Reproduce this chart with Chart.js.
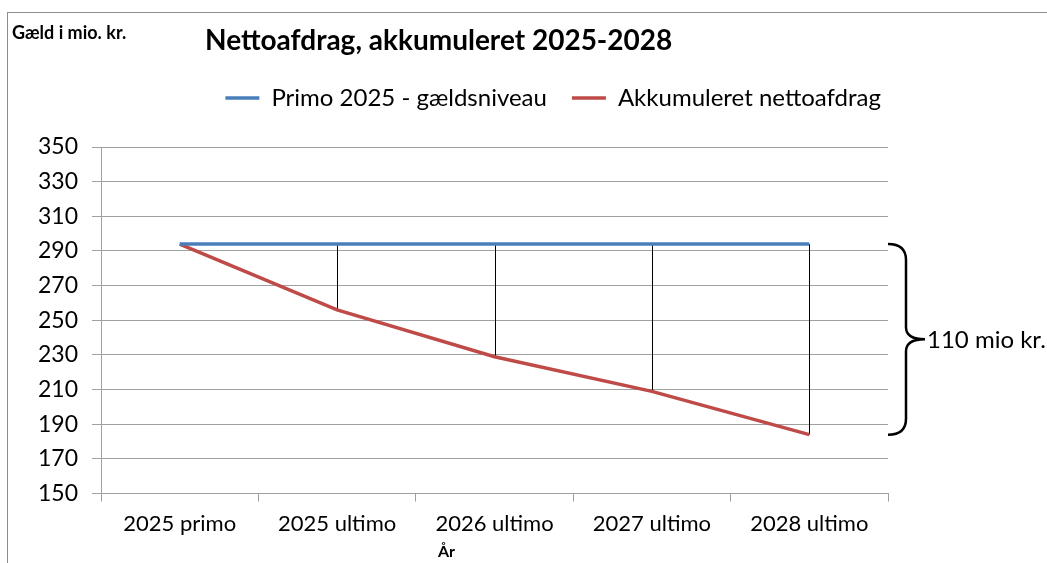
<!DOCTYPE html>
<html>
<head>
<meta charset="utf-8">
<title>Nettoafdrag, akkumuleret 2025-2028</title>
<script src="https://cdn.jsdelivr.net/npm/chart.js@4.4.1/dist/chart.umd.min.js"></script>
<style>
  html, body { margin: 0; padding: 0; background: #fff; }
  #wrap { position: relative; width: 1047px; height: 563px; overflow: hidden; font-family: Lato, sans-serif; }
  #frame { position: absolute; left: 7px; top: 12px; width: 1100px; height: 600px;
           border-top: 1px solid #8c8c8c; border-left: 1px solid #8c8c8c; }
  canvas { position: absolute; left: 0; top: 0; }
  .lbl { position: absolute; white-space: nowrap; color: #000; }
  #title { left: 205px; top: 25px; font-size: 28px; line-height: 28px; font-weight: bold; }
  #ylabel { left: 12px; top: 23px; font-size: 18px; line-height: 18px; font-weight: bold; }
  #xlabel { left: 438px; top: 543px; font-size: 16px; line-height: 16px; font-weight: bold; }
</style>
</head>
<body>
<div id="wrap">
  <div id="frame"></div>
  <canvas id="line-chart" width="1047" height="563"></canvas>
  <div class="lbl" id="title">Nettoafdrag, akkumuleret 2025-2028</div>
  <div class="lbl" id="ylabel">Gæld i mio. kr.</div>
  <div class="lbl" id="xlabel">År</div>
</div>
<script>
// data
var categories = ['2025 primo', '2025 ultimo', '2026 ultimo', '2027 ultimo', '2028 ultimo'];
var primoLevel = [294, 294, 294, 294, 294];
var accumulated = [294, 256, 229, 209, 184];
var yMin = 150;
var yMax = 350;
var yStep = 20;

Chart.defaults.font.family = 'Lato, sans-serif';
Chart.defaults.color = '#000';

// extra room under the legend, and push the legend a bit to the right
var legendTweak = {
    id: 'legendTweak',
    beforeInit: function (chart) {
        var fit = chart.legend.fit;
        chart.legend.fit = function () {
            fit.bind(chart.legend)();
            this.height += 27;
        };
    },
    afterLayout: function (chart) {
        chart.legend.left += 18;
        chart.legend.right += 18;
    }
};

// thin black lines from the primo level down to each year's value
var dropLines = {
    id: 'dropLines',
    beforeDatasetsDraw: function (chart) {
        var ctx = chart.ctx;
        var xs = chart.scales.x, ys = chart.scales.y;
        ctx.save();
        ctx.strokeStyle = '#000';
        ctx.lineWidth = 1;
        for (var i = 1; i < categories.length; i++) {
            var x = Math.round(xs.getPixelForValue(i)) + 0.5;
            ctx.beginPath();
            ctx.moveTo(x, ys.getPixelForValue(primoLevel[i]));
            ctx.lineTo(x, ys.getPixelForValue(accumulated[i]));
            ctx.stroke();
        }
        ctx.restore();
    }
};

// curly brace with the total
var brace = {
    id: 'brace',
    afterDraw: function (chart) {
        var ctx = chart.ctx;
        var ys = chart.scales.y;
        var last = categories.length - 1;
        var top = ys.getPixelForValue(primoLevel[last]);
        var bot = ys.getPixelForValue(accumulated[last]);
        var mid = (top + bot) / 2;
        var x0 = chart.chartArea.right;
        var xv = x0 + 18, xt = x0 + 37;
        ctx.save();
        ctx.strokeStyle = '#000';
        ctx.lineWidth = 2.5;
        ctx.beginPath();
        ctx.moveTo(x0, top);
        ctx.quadraticCurveTo(xv, top, xv, top + 16);
        ctx.lineTo(xv, mid - 12);
        ctx.quadraticCurveTo(xv, mid, xt, mid);
        ctx.quadraticCurveTo(xv, mid, xv, mid + 12);
        ctx.lineTo(xv, bot - 16);
        ctx.quadraticCurveTo(xv, bot, x0, bot);
        ctx.stroke();
        ctx.fillStyle = '#000';
        ctx.font = '24px Lato, sans-serif';
        ctx.textBaseline = 'middle';
        ctx.fillText((primoLevel[last] - accumulated[last]) + ' mio kr.', xt + 2, mid + 1);
        ctx.restore();
    }
};

new Chart(document.getElementById('line-chart'), {
    type: 'line',
    data: {
        labels: categories,
        datasets: [
            {
                label: 'Primo 2025 - gældsniveau',
                data: primoLevel,
                borderColor: '#4a7ebb',
                backgroundColor: '#4a7ebb',
                borderWidth: 3.5,
                pointRadius: 0,
                tension: 0
            },
            {
                label: 'Akkumuleret nettoafdrag',
                data: accumulated,
                borderColor: '#be4b48',
                backgroundColor: '#be4b48',
                borderWidth: 3.5,
                pointRadius: 0,
                tension: 0
            }
        ]
    },
    options: {
        responsive: false,
        animation: false,
        layout: { padding: { top: 61, left: 24, right: 159, bottom: 17 } },
        plugins: {
            title: { display: false },
            tooltip: { enabled: false },
            legend: {
                position: 'top',
                align: 'end',
                labels: {
                    usePointStyle: true,
                    pointStyle: 'line',
                    pointStyleWidth: 34,
                    padding: 25,
                    font: { size: 24 },
                    color: '#000'
                }
            }
        },
        scales: {
            x: {
                offset: true,
                grid: { offset: true, drawOnChartArea: false, tickLength: 8, color: '#a0a0a0' },
                border: { color: '#a0a0a0' },
                ticks: { font: { size: 22 }, color: '#000', padding: 9, maxRotation: 0, autoSkip: false }
            },
            y: {
                min: yMin,
                max: yMax,
                grid: { color: '#a0a0a0', tickLength: 9 },
                border: { color: '#a0a0a0' },
                ticks: { stepSize: yStep, font: { size: 23 }, color: '#000', padding: 14 }
            }
        }
    },
    plugins: [legendTweak, dropLines, brace]
});
</script>
</body>
</html>
